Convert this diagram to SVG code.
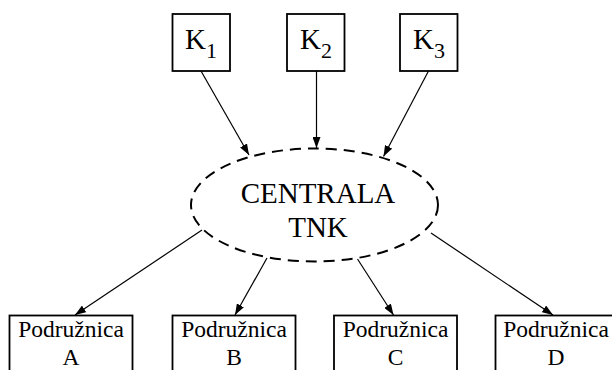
<svg xmlns="http://www.w3.org/2000/svg" width="612" height="370" viewBox="0 0 612 370">
<style>
.box{fill:#fff;stroke:#000;stroke-width:1.8}
.t{font-family:"Liberation Serif","Times New Roman",serif;fill:#000;text-anchor:middle}
.k{font-size:29px}
.sub{font-size:22px}
.c{font-size:29px}
.p{font-size:23.5px}
.ln{stroke:#000;stroke-width:1.2;fill:none}
</style>
<defs>
<marker id="ah" viewBox="0 0 11 8" refX="11" refY="4" markerWidth="11" markerHeight="8" markerUnits="userSpaceOnUse" orient="auto">
<path d="M0,0 L11,4 L0,8 z" fill="#000"/>
</marker>
</defs>
<rect width="612" height="370" fill="#fff"/>
<g id="connectors">
<line class="ln" x1="201" y1="71" x2="249" y2="155" marker-end="url(#ah)"/>
<line class="ln" x1="316.5" y1="71" x2="316.5" y2="148" marker-end="url(#ah)"/>
<line class="ln" x1="428.5" y1="71" x2="383.5" y2="156.5" marker-end="url(#ah)"/>
<line class="ln" x1="202" y1="230" x2="75" y2="315" marker-end="url(#ah)"/>
<line class="ln" x1="267" y1="258" x2="235" y2="315" marker-end="url(#ah)"/>
<line class="ln" x1="357.5" y1="259" x2="393.5" y2="315" marker-end="url(#ah)"/>
<line class="ln" x1="431" y1="233" x2="553" y2="315" marker-end="url(#ah)"/>
</g>
<g id="K1">
<rect class="box" x="172.5" y="14" width="57.5" height="57"/>
<text class="t k" x="201" y="49">K<tspan class="sub" dy="9">1</tspan></text>
</g>
<g id="K2">
<rect class="box" x="287" y="14" width="57.5" height="57"/>
<text class="t k" x="316" y="49">K<tspan class="sub" dy="9">2</tspan></text>
</g>
<g id="K3">
<rect class="box" x="400" y="14" width="57.5" height="57"/>
<text class="t k" x="429" y="49">K<tspan class="sub" dy="9">3</tspan></text>
</g>
<g id="centrala">
<ellipse cx="314.5" cy="205" rx="123.5" ry="56.5" fill="#fff" stroke="#000" stroke-width="2" stroke-dasharray="11,7"/>
<text class="t c" x="318" y="203">CENTRALA</text>
<text class="t c" x="318" y="237">TNK</text>
</g>
<g id="podruznicaA">
<rect class="box" x="9.5" y="315.5" width="123" height="60"/>
<text class="t p" x="71" y="337">Podružnica</text>
<text class="t p" x="71" y="365">A</text>
</g>
<g id="podruznicaB">
<rect class="box" x="172.5" y="315.5" width="123" height="60"/>
<text class="t p" x="234" y="337">Podružnica</text>
<text class="t p" x="234" y="365">B</text>
</g>
<g id="podruznicaC">
<rect class="box" x="334" y="315.5" width="123" height="60"/>
<text class="t p" x="395.5" y="337">Podružnica</text>
<text class="t p" x="395.5" y="365">C</text>
</g>
<g id="podruznicaD">
<rect class="box" x="495.5" y="315.5" width="123" height="60"/>
<text class="t p" x="556" y="337">Podružnica</text>
<text class="t p" x="556" y="365">D</text>
</g>
</svg>
